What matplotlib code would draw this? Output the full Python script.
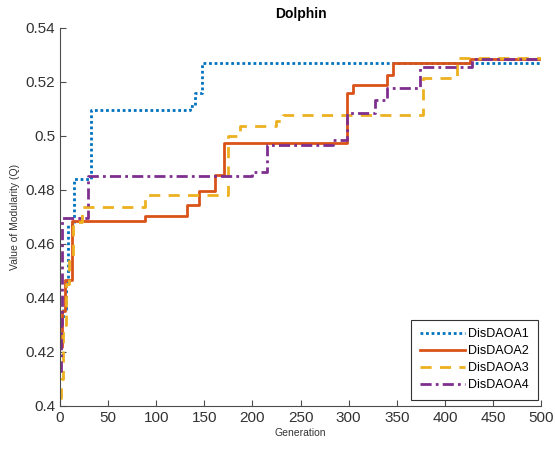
import numpy as np
import matplotlib
matplotlib.use('Agg')
import matplotlib.pyplot as plt
from matplotlib.ticker import FuncFormatter

plt.rcParams['font.family'] = ['Liberation Sans', 'DejaVu Sans']

# change points (generation, value); each series holds its last value until gen 500
blue_gen = [0, 3, 6, 8, 15, 32, 135, 140, 148]
blue_val = [0.432, 0.436, 0.445, 0.467, 0.484, 0.5095, 0.511, 0.516, 0.527]

red_gen = [0, 2, 5, 12.5, 88, 132, 145, 161, 170, 298, 305, 340, 346, 426]
red_val = [0.422, 0.435, 0.4468, 0.4683, 0.4705, 0.4745, 0.4796, 0.4855, 0.4975,
           0.5158, 0.5188, 0.5225, 0.527, 0.5285]

yellow_gen = [0, 1, 3, 6, 9, 13.5, 22.5, 88, 175, 187, 225, 232, 377, 388, 413]
yellow_val = [0.403, 0.41, 0.43, 0.445, 0.455, 0.468, 0.4738, 0.4782, 0.5, 0.5036,
              0.5055, 0.5076, 0.5215, 0.5215, 0.5288]

purple_gen = [0, 1, 2, 29, 200, 215, 284, 298, 327, 340, 374, 428]
purple_val = [0.413, 0.43, 0.4696, 0.4852, 0.4867, 0.4968, 0.4983, 0.5085, 0.5133,
              0.5178, 0.5254, 0.5285]

labels = ['DisDAOA1', 'DisDAOA2', 'DisDAOA3', 'DisDAOA4']
colors = ['#0072BD', '#D95319', '#EDB120', '#7E2F8E']
styles = [(0, (1, 1)), '-', (0, (4, 3)), (0, (4, 1.5, 1, 1.5))]

fig = plt.figure(figsize=(5.55, 4.5), dpi=100)
ax = fig.add_axes([0.108, 0.098, 0.867, 0.84])

series = [(blue_gen, blue_val), (red_gen, red_val), (yellow_gen, yellow_val), (purple_gen, purple_val)]
for (g, v), lab, c, ls in zip(series, labels, colors, styles):
    g = list(g) + [500]
    v = list(v) + [v[-1]]
    ax.step(g, v, where='post', color=c, linestyle=ls, linewidth=2, label=lab)

ax.set_xlim(0, 500)
ax.set_ylim(0.4, 0.54)
ax.set_xticks(np.arange(0, 501, 50))
ax.set_yticks(np.arange(0.4, 0.5401, 0.02))
ax.yaxis.set_major_formatter(FuncFormatter(lambda y, p: '%g' % round(y, 2)))

for s in ['top', 'right']:
    ax.spines[s].set_visible(False)
for s in ['left', 'bottom']:
    ax.spines[s].set_color('#4d4d4d')
    ax.spines[s].set_linewidth(0.8)
ax.tick_params(direction='in', length=4, width=0.8, colors='#4d4d4d', labelsize=11,
               labelcolor='#333333')

ax.set_title('Dolphin', fontsize=10, fontweight='bold', pad=7)
ax.set_xlabel('Generation', fontsize=7.5, color='#333333', labelpad=2)
ax.set_ylabel('Value of Modularity (Q)', fontsize=7.5, color='#333333', labelpad=4)

leg = ax.legend(loc='lower right', fontsize=9, handlelength=3.6, fancybox=False,
                framealpha=1, edgecolor='#333333', borderpad=0.7, labelspacing=0.4,
                handletextpad=0.3, borderaxespad=0, bbox_to_anchor=(0.993, 0.015))
leg.get_frame().set_linewidth(0.8)

fig.savefig('out.png', dpi=100)
